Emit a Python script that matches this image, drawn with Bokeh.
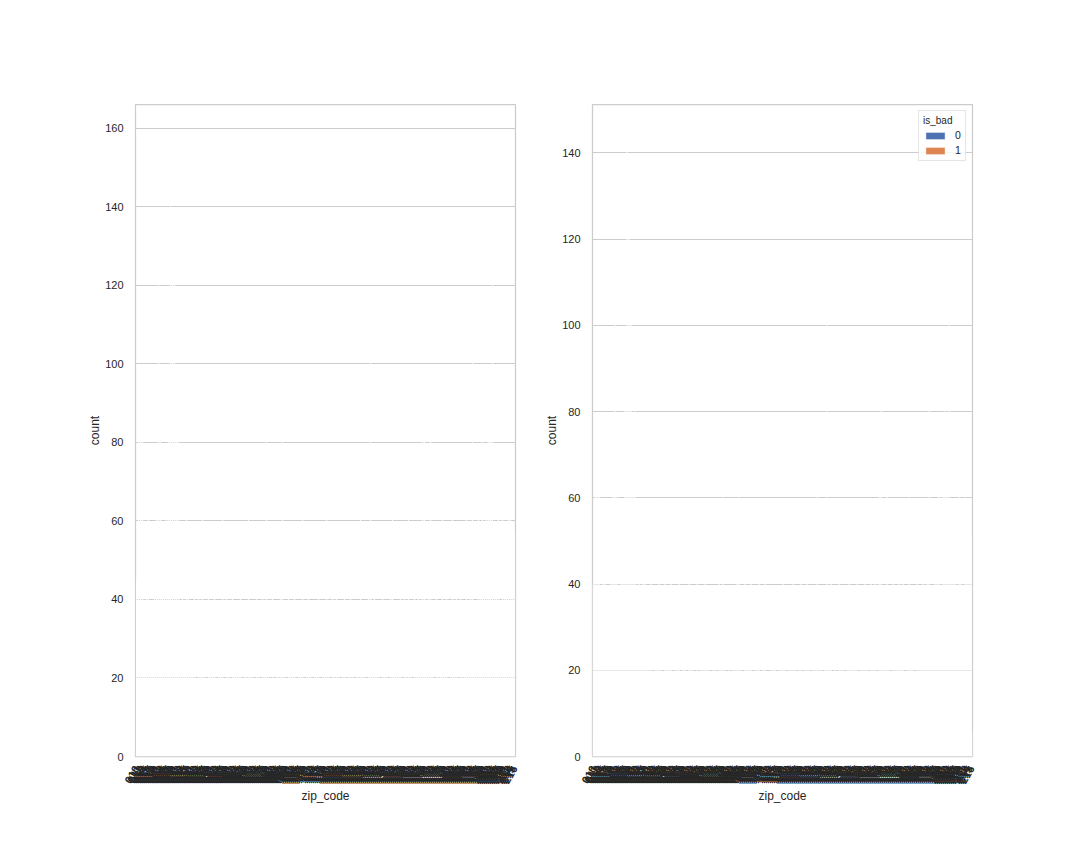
from bokeh.plotting import figure
from bokeh.layouts import row
from bokeh.models import ColumnDataSource, FactorRange, Range1d, SingleIntervalTicker
from bokeh.transform import dodge
from bokeh.embed import file_html
from bokeh.resources import INLINE

# ---- data (read/estimated from the picture) ----
zip_codes = """010 011 012 013 014 015 016 017 018 019
020 021 023 024 025 026 027 028 029 030
031 032 033 034 035 037 038 040 041 042
043 044 045 046 047 048 049 050 051 052
053 054 056 057 058 059 060 061 062 063
064 065 066 067 068 069 070 071 072 073
074 075 076 077 078 079 080 081 082 083
084 085 086 087 088 089 100 101 103 104
105 106 107 108 109 110 111 112 113 114
115 116 117 118 119 120 121 122 123 124
125 126 127 128 129 130 131 132 133 134
135 136 137 138 139 140 141 142 143 144
145 146 147 148 149 150 151 152 153 154
155 156 157 158 159 160 161 162 163 164
165 166 167 168 169 170 171 172 173 174
175 176 177 178 179 180 181 182 183 184
185 186 187 188 189 190 191 193 194 195
196 197 198 199 200 201 202 203 204 205
206 207 208 209 210 211 212 214 215 216""".split()

# loans with is_bad == 0 per zip code
count_good = [
    40, 76, 79, 74, 34, 46, 54, 24, 29, 43,
    62, 113, 78, 37, 50, 59, 84, 144, 121, 112,
    75, 82, 31, 52, 26, 57, 42, 20, 35, 49,
    16, 39, 23, 60, 27, 14, 43, 33, 21, 47,
    11, 32, 25, 55, 17, 37, 29, 14, 51, 22,
    27, 19, 41, 13, 34, 24, 58, 21, 30, 10,
    35, 26, 15, 44, 23, 74, 28, 18, 38, 13,
    32, 21, 53, 76, 25, 12, 40, 27, 20, 48,
    17, 33, 23, 54, 14, 29, 43, 18, 11, 35,
    24, 39, 16, 31, 22, 56, 27, 13, 36, 21,
    46, 25, 15, 32, 41, 18, 28, 51, 21, 12,
    35, 24, 61, 20, 30, 14, 38, 104, 26, 42,
    19, 34, 14, 50, 23, 28, 17, 39, 59, 20,
    31, 25, 45, 15, 36, 21, 55, 27, 13, 43,
    29, 51, 19, 73, 82, 24, 37, 72, 32, 17,
    47, 22, 27, 57, 20, 40, 14, 34, 63, 26,
    38, 18, 49, 30, 23, 60, 33, 42, 92, 25,
    35, 54, 44, 75, 39, 66, 80, 78, 115, 52,
    41, 59, 29, 64, 46, 37, 69, 56, 44, 51,
]

# loans with is_bad == 1 per zip code
count_bad = [
    5, 9, 11, 8, 4, 6, 7, 3, 4, 5,
    8, 12, 10, 4, 6, 7, 11, 14, 9, 10,
    9, 10, 4, 6, 3, 7, 5, 2, 4, 6,
    2, 5, 3, 7, 4, 1, 6, 4, 3, 6,
    1, 4, 3, 7, 2, 5, 4, 2, 6, 3,
    3, 2, 5, 1, 4, 3, 7, 2, 4, 1,
    5, 3, 2, 6, 3, 9, 4, 2, 5, 2,
    4, 3, 6, 10, 3, 1, 5, 4, 2, 6,
    2, 4, 3, 7, 2, 4, 5, 3, 1, 4,
    3, 5, 2, 4, 3, 7, 3, 1, 5, 2,
    6, 3, 2, 4, 5, 2, 3, 7, 3, 1,
    4, 3, 8, 2, 4, 2, 5, 8, 3, 5,
    2, 4, 1, 6, 3, 4, 2, 5, 7, 3,
    4, 3, 6, 2, 4, 3, 7, 3, 1, 5,
    4, 6, 2, 9, 10, 3, 5, 9, 4, 2,
    6, 3, 4, 7, 2, 5, 2, 4, 8, 3,
    5, 2, 6, 4, 3, 8, 4, 5, 12, 3,
    4, 7, 6, 10, 5, 8, 10, 9, 13, 6,
    5, 8, 4, 8, 6, 4, 9, 7, 5, 6,
]

count_all = [g + b for g, b in zip(count_good, count_bad)]

hue_labels = ["0", "1"]
hue_colors = ["#4c72b0", "#dd8452"]

TEXT = "#262626"
GRID = "#cccccc"
FONT = "Liberation Sans"

src = ColumnDataSource(dict(zip=zip_codes, total=count_all, good=count_good, bad=count_bad))


def make_fig(width, ymax, left_border, right_border):
    p = figure(
        width=width, height=864,
        x_range=FactorRange(factors=zip_codes, range_padding=0),
        y_range=Range1d(0, ymax),
        output_backend="svg", toolbar_location=None,
        min_border_left=left_border, min_border_right=right_border,
        min_border_top=104, min_border_bottom=108,
    )
    p.background_fill_color = "white"
    p.border_fill_color = "white"
    p.outline_line_color = GRID
    p.outline_line_width = 1.25
    p.xgrid.grid_line_color = None
    p.ygrid.grid_line_color = GRID
    p.ygrid.grid_line_width = 1
    p.yaxis.ticker = SingleIntervalTicker(interval=20)
    for ax in (p.xaxis[0], p.yaxis[0]):
        ax.axis_line_color = None
        ax.major_tick_line_color = None
        ax.minor_tick_line_color = None
        ax.major_tick_out = 0
        ax.major_label_text_color = TEXT
        ax.major_label_text_font = FONT
        ax.major_label_text_font_size = "11px"
        ax.axis_label_text_color = TEXT
        ax.axis_label_text_font = FONT
        ax.axis_label_text_font_size = "12px"
        ax.axis_label_text_font_style = "normal"
    p.xaxis.axis_label = "zip_code"
    p.yaxis.axis_label = "count"
    p.xaxis.major_label_orientation = 1.05
    p.xaxis.major_label_text_font_size = "11px"
    p.xaxis.major_label_text_font_style = "bold"
    p.xaxis.major_label_standoff = 10
    p.xaxis.axis_label_standoff = 0
    p.yaxis.major_label_standoff = 8
    p.yaxis.axis_label_standoff = 0
    return p


# bars are drawn with seaborn's white edge; at this density they come out white
BAR = dict(fill_color="white", line_color="white", line_width=0.5)

# ---- left: count per zip code ----
p1 = make_fig(535, 166, 135, 20)
p1.vbar(x="zip", top="total", width=0.3, source=src, **BAR)

# ---- right: count per zip code split by is_bad ----
p2 = make_fig(545, 151.2, 57, 108)
p2.vbar(x=dodge("zip", -0.2, range=p2.x_range), top="good", width=0.2, source=src, **BAR)
p2.vbar(x=dodge("zip", 0.2, range=p2.x_range), top="bad", width=0.2, source=src, **BAR)

# legend patches in the hue colours (no bar drawn: NaN height)
legend_src = ColumnDataSource(dict(zip=[zip_codes[0]], top=[float("nan")]))
for lab, col in zip(hue_labels, hue_colors):
    p2.vbar(x="zip", top="top", width=0.2, source=legend_src,
            fill_color=col, line_color="white", line_width=0.5, legend_label=lab)

lg = p2.legend[0]
lg.title = "is_bad"
lg.title_text_font = FONT
lg.title_text_font_size = "10px"
lg.title_text_font_style = "normal"
lg.title_text_color = TEXT
lg.title_standoff = 3
lg.label_text_font = FONT
lg.label_text_font_size = "10.5px"
lg.label_text_color = TEXT
lg.location = "top_right"
lg.margin = 6
lg.padding = 4
lg.spacing = 3
lg.glyph_width = 24
lg.glyph_height = 9
lg.label_height = 12
lg.label_width = 6
lg.label_standoff = 8
lg.border_line_color = GRID
lg.border_line_width = 1
lg.background_fill_alpha = 0.8

layout = row(p1, p2)

open("out.html", "w").write(file_html(layout, INLINE))
